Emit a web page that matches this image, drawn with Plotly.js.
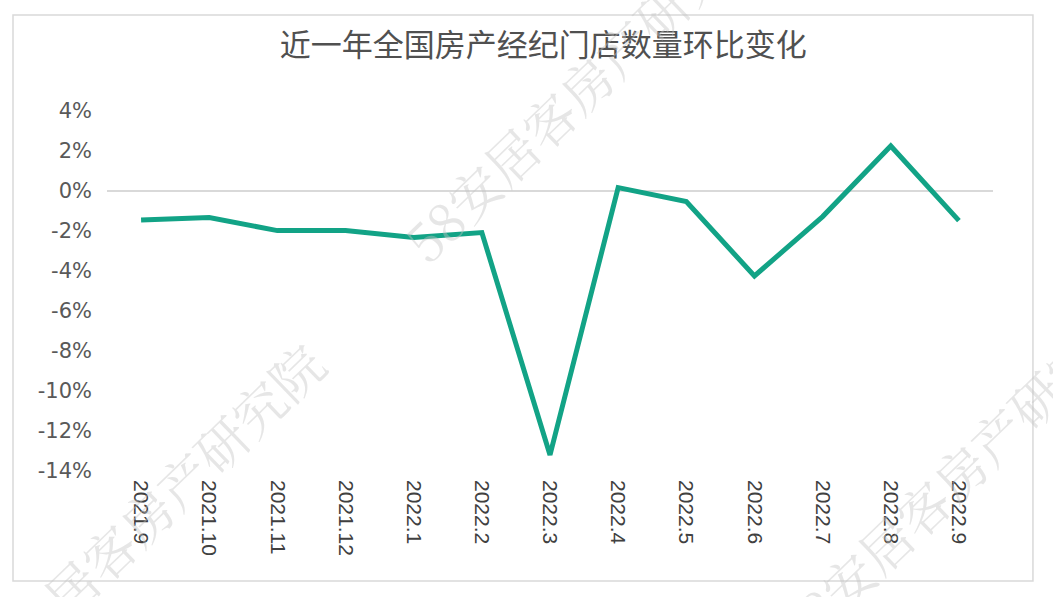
<!DOCTYPE html>
<html>
<head>
<meta charset="utf-8">
<script src="https://cdn.plot.ly/plotly-3.0.1.min.js"></script>
<style>html,body{margin:0;padding:0;background:#fff;}#chart{width:1053px;height:597px;}</style>
</head>
<body>
<div id="chart"></div>
<script>
var months = ["2021.9","2021.10","2021.11","2021.12","2022.1","2022.2","2022.3","2022.4","2022.5","2022.6","2022.7","2022.8","2022.9"];
var momChange = [-1.45, -1.33, -1.98, -1.98, -2.33, -2.08, -13.2, 0.17, -0.53, -4.25, -1.28, 2.25, -1.48];
var yTickVals = [4, 2, 0, -2, -4, -6, -8, -10, -12, -14];
var yTickText = ["4%", "2%", "0%", "-2%", "-4%", "-6%", "-8%", "-10%", "-12%", "-14%"];
var chartTitle = "近一年全国房产经纪门店数量环比变化";
var watermark = "58安居客房产研究院";

var trace = {
  x: months, y: momChange, type: "scatter", mode: "lines",
  line: {color: "#12a386", width: 5},
  hoverinfo: "skip"
};

var wmFont = {family: "Noto Serif CJK SC, Noto Sans CJK SC, serif", size: 52, color: "rgba(195,195,195,0.42)"};
function wm(x, y) {
  return {text: watermark, xref: "paper", yref: "paper", x: x, y: y, xanchor: "center", yanchor: "middle",
          textangle: -44, showarrow: false, font: wmFont};
}
var layout = {
  width: 1053, height: 597,
  margin: {l: 107, r: 60, t: 111, b: 126},
  paper_bgcolor: "#ffffff", plot_bgcolor: "rgba(0,0,0,0)",
  showlegend: false,
  title: {text: chartTitle, x: 0.516, xanchor: "center", y: 0.925, yanchor: "middle",
          font: {family: "Noto Sans CJK SC, sans-serif", size: 31, color: "#505050"}},
  xaxis: {type: "category", tickangle: 90, showgrid: false, zeroline: false, showline: false,
          ticks: "", ticklabelstandoff: 8,
          tickfont: {family: "Liberation Sans, Arial, sans-serif", size: 21, color: "#404040"},
          range: [-0.5, 12.5]},
  yaxis: {range: [-14, 4], tickvals: yTickVals, ticktext: yTickText, showgrid: false,
          zeroline: true, zerolinecolor: "#d9d9d9", zerolinewidth: 2, showline: false, ticks: "",
          ticklabelstandoff: 14,
          tickfont: {family: "DejaVu Sans, sans-serif", size: 21, color: "#595959"}},
  shapes: [{type: "rect", xref: "paper", yref: "paper", x0: -0.1061, x1: 1.0451, y0: -0.3055, y1: 1.2667,
            line: {color: "#d9d9d9", width: 1.5}, fillcolor: "rgba(0,0,0,0)", layer: "below"}],
  annotations: [wm(0.537, 1.072), wm(0.0406, -0.128), wm(0.959, -0.0056)]
};
Plotly.newPlot("chart", [trace], layout, {displayModeBar: false, staticPlot: true});
</script>
</body>
</html>
